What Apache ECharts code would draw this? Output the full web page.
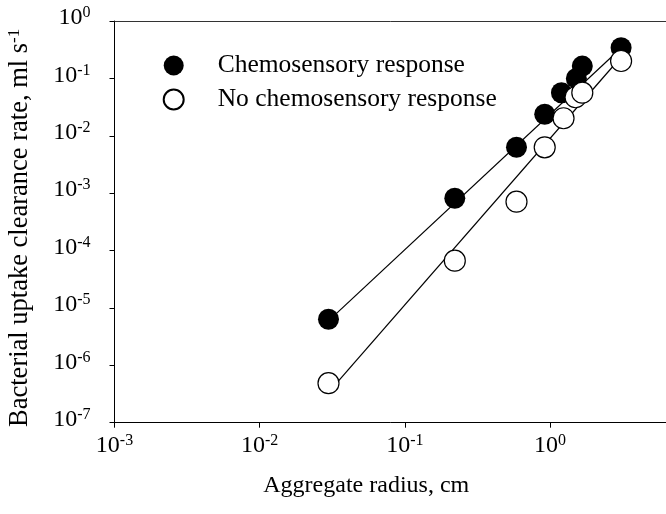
<!DOCTYPE html>
<html>
<head>
<meta charset="utf-8">
<script src="https://cdn.jsdelivr.net/npm/echarts@6/dist/echarts.min.js"></script>
<style>html,body{margin:0;padding:0;background:#fff;overflow:hidden;}#c{width:666px;height:514px;}</style>
</head>
<body>
<div id="c"></div>
<script>
// Aggregate radius (cm) for each measured point
const radiusChemo = [0.0298, 0.221, 0.588, 0.92, 1.20, 1.52, 1.67, 3.09];
const rateChemo   = [6.35e-6, 8.15e-4, 6.3e-3, 0.0237, 0.0563, 0.100, 0.164, 0.343];
const radiusNoChemo = [0.0298, 0.221, 0.588, 0.92, 1.24, 1.50, 1.67, 3.09];
const rateNoChemo   = [4.88e-7, 6.67e-5, 7.1e-4, 6.3e-3, 0.0202, 0.0469, 0.0563, 0.201];
// fitted lines (end points)
const fitChemoX = [0.0298, 3.09];
const fitChemoY = [5.94e-6, 0.339];
const fitNoChemoX = [0.0298, 3.09];
const fitNoChemoY = [3.37e-7, 0.236];
const seriesNames = ['Chemosensory response', 'No chemosensory response'];
const xTitle = 'Aggregate radius, cm';
const yTitle = 'Bacterial uptake clearance rate, ml s';
const yTitleSup = '-1';

const zip = (a, b) => a.map((v, i) => [v, b[i]]);
const FONT = 'Liberation Serif';
const supFmt = v => {
  const l = Math.log10(v);
  const e = Math.round(l);
  if (Math.abs(l - e) > 1e-6) return '';
  return '{b|10}{s|' + e + '}';
};
const richLbl = {
  b: {fontFamily: FONT, fontSize: 24, color: '#000', lineHeight: 26},
  s: {fontFamily: FONT, fontSize: 16, color: '#000', verticalAlign: 'top', lineHeight: 16}
};

const chart = echarts.init(document.getElementById('c'), null, {renderer: 'canvas'});
chart.setOption({
  animation: false,
  backgroundColor: '#fff',
  grid: {left: 114.5, top: 21, bottom: 91.3, right: 0, outerBoundsMode: 'none', containLabel: false,
         show: false},
  legend: {
    data: seriesNames,
    orient: 'vertical',
    left: 162.7, top: 52.5,
    padding: 0,
    itemWidth: 20, itemHeight: 20, itemGap: 8,
    icon: 'circle',
    textStyle: {fontFamily: FONT, fontSize: 25.5, color: '#000', padding: [0, 0, 0, 29]}
  },
  xAxis: [{
    type: 'log', logBase: 10, min: 0.001, max: 6.3, interval: 1,
    name: xTitle, nameLocation: 'middle', nameGap: 51, nameMoveOverlap: false,
    nameTextStyle: {fontFamily: FONT, fontSize: 24, color: '#000', padding: [0, 48, 0, 0]},
    axisLine: {lineStyle: {color: '#000', width: 1}},
    axisTick: {inside: false, length: 5, lineStyle: {color: '#000'}},
    minorTick: {show: false},
    splitLine: {show: false},
    axisLabel: {formatter: supFmt, rich: richLbl, margin: 10}
  }, {
    type: 'log', logBase: 10, min: 0.001, max: 6.3, position: 'top',
    axisLine: {show: true, lineStyle: {color: '#333', width: 1}},
    axisTick: {show: false}, axisLabel: {show: false}, splitLine: {show: false}
  }],
  yAxis: {
    type: 'log', logBase: 10, min: 1e-7, max: 1, interval: 1,
    name: '{a|' + yTitle + '}{s|' + yTitleSup + '}', nameLocation: 'middle', nameGap: 80, nameMoveOverlap: false,
    nameTextStyle: {padding: [0, 12, 0, 0], rich: {
      a: {fontFamily: FONT, fontSize: 26.5, color: '#000', lineHeight: 28},
      s: {fontFamily: FONT, fontSize: 17, color: '#000', verticalAlign: 'top', lineHeight: 17}
    }},
    axisLine: {lineStyle: {color: '#000', width: 1}},
    axisTick: {inside: false, length: 5, lineStyle: {color: '#000'}},
    splitLine: {show: false},
    axisLabel: {formatter: supFmt, rich: richLbl, margin: 24, padding: [0, 0, 6, 0]}
  },
  series: [
    {type: 'line', name: 'fitChemo', data: zip(fitChemoX, fitChemoY), showSymbol: false, symbol: 'none',
     lineStyle: {color: '#000', width: 1.2}, z: 1, silent: true},
    {type: 'line', name: 'fitNoChemo', data: zip(fitNoChemoX, fitNoChemoY), showSymbol: false, symbol: 'none',
     lineStyle: {color: '#000', width: 1.2}, z: 1, silent: true},
    {type: 'scatter', name: seriesNames[0], data: zip(radiusChemo, rateChemo), symbol: 'circle', symbolSize: 21,
     itemStyle: {color: '#000', opacity: 1}, z: 3},
    {type: 'scatter', name: seriesNames[1], data: zip(radiusNoChemo, rateNoChemo), symbol: 'circle', symbolSize: 21,
     itemStyle: {color: '#fff', borderColor: '#000', borderWidth: 1.2, opacity: 1}, z: 4}
  ]
});
</script>
</body>
</html>
